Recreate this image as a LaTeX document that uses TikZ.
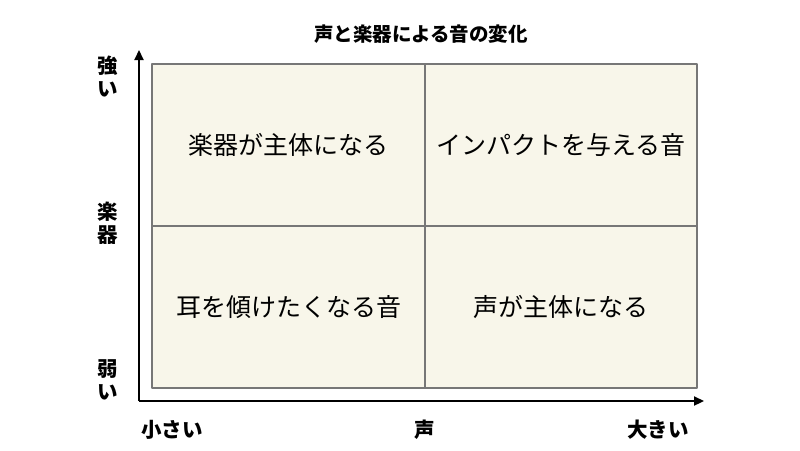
\documentclass[tikz,border=0pt]{standalone}
\usepackage{fontspec}
\usetikzlibrary{arrows.meta}
\newfontfamily\jp{Noto Sans CJK JP}
\definecolor{boxfill}{HTML}{F8F6EA}
\definecolor{boxline}{HTML}{777777}
\begin{document}
\begin{tikzpicture}[x=1pt,y=-1pt,line join=round,>={Triangle[length=10pt,width=9pt]}]
	\tikzset{quad/.style={draw=boxline,line width=2.2pt,fill=boxfill,minimum width=272.5pt,minimum height=162pt,inner sep=0pt,font=\jp\fontsize{25}{28}\selectfont},
		axislabel/.style={font=\jp\bfseries\fontsize{20.5}{23}\selectfont,align=center,inner sep=0pt},
		axis/.style={line width=2.2pt,->}}
	\useasboundingbox (0,0) rectangle (800,450);
	\node[quad] (tl) at (288.5,145) {楽器が主体になる};
	\node[quad] (tr) at (561,145) {インパクトを与える音};
	\node[quad] (bl) at (288.5,307) {耳を傾けたくなる音};
	\node[quad] (br) at (561,307) {声が主体になる};
	\coordinate (origin) at (139,401);
	\coordinate (ytip) at (139,50);
	\coordinate (xtip) at (704,401);
	\draw[axis] (origin) -- (ytip);
	\draw[axis] (origin) -- (xtip);
	\node[axislabel,font=\jp\bfseries\fontsize{19.5}{22}\selectfont] (title) at (421,34) {声と楽器による音の変化};
	\node[axislabel] (strong) at (108,77) {強\\い};
	\node[axislabel] (gakki) at (108,223) {楽\\器};
	\node[axislabel] (weak) at (108,380) {弱\\い};
	\node[axislabel] (small) at (172,430) {小さい};
	\node[axislabel] (koe) at (425,430) {声};
	\node[axislabel] (large) at (658,430) {大きい};
\end{tikzpicture}
\end{document}
